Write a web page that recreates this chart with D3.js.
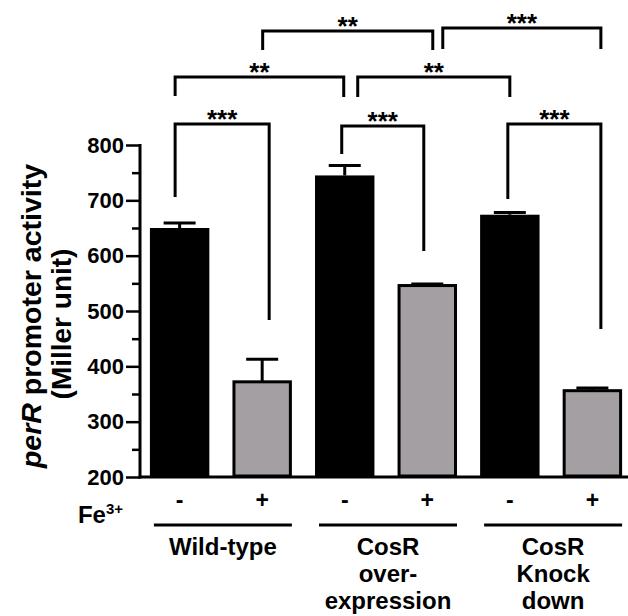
<!DOCTYPE html>
<html><head><meta charset="utf-8">
<script src="https://cdn.jsdelivr.net/npm/d3@7"></script>
<style>body{margin:0;background:#fff}svg{display:block}text{font-family:"Liberation Sans",Arial,sans-serif;font-weight:bold}</style>
</head><body>
<svg id="c" width="628" height="616"></svg>
<script>
// ---- data ----
const conditions = ["-", "+", "-", "+", "-", "+"];
const groups = ["Wild-type", "CosR over-expression", "CosR Knock down"];
const groupLines = [["Wild-type"], ["CosR", "over-", "expression"], ["CosR", "Knock", "down"]];
const values = [650, 372, 745, 546, 674, 356];
const errors = [9, 41, 18, 3, 4, 5];
const yTicks = [200, 300, 400, 500, 600, 700, 800];
const yMinorTicks = [250, 350, 450, 550, 650, 750];
const comparisons = [[0, 1, "***"], [2, 3, "***"], [4, 5, "***"], [0, 2, "**"], [2, 4, "**"], [1, 3, "**"], [3, 5, "***"]];

// ---- layout ----
const svg = d3.select("#c");
const x = d3.scaleBand().domain(d3.range(values.length)).range([140, 632]).paddingInner(0.28).paddingOuter(0.12);
const y = d3.scaleLinear().domain([200, 800]).range([477, 145]);
const fills = ["#000", "#a39fa3"];

// bars
svg.selectAll("rect.bar").data(values).join("rect")
  .attr("class", "bar")
  .attr("x", (d, i) => x(i) + (i % 2 ? 1.5 : 0))
  .attr("width", (d, i) => x.bandwidth() - (i % 2 ? 3 : 0))
  .attr("y", d => y(d))
  .attr("height", d => y(200) - y(d) - 1)
  .attr("fill", (d, i) => fills[i % 2])
  .attr("stroke", "#000")
  .attr("stroke-width", (d, i) => i % 2 ? 3 : 0);

// error bars (upper only)
const eb = svg.append("g").attr("stroke", "#000").attr("stroke-width", 3);
values.forEach((v, i) => {
  const cx = x(i) + x.bandwidth() / 2;
  eb.append("line").attr("x1", cx).attr("x2", cx).attr("y1", y(v)).attr("y2", y(v + errors[i]));
  eb.append("line").attr("x1", cx - 16).attr("x2", cx + 16).attr("y1", y(v + errors[i])).attr("y2", y(v + errors[i]));
});

// axes
const yAxis = svg.append("g").attr("transform", "translate(140,0)")
  .call(d3.axisLeft(y).tickValues(yTicks).tickSize(14).tickPadding(2).tickFormat(d3.format("d")));
yAxis.select(".domain").remove();
yAxis.selectAll(".tick line").attr("stroke-width", 2.5);
yAxis.selectAll(".tick text").attr("font-size", 22).attr("font-family", "Liberation Sans").attr("font-weight", "bold").attr("fill", "#000");
const yMinor = svg.append("g").attr("transform", "translate(140,0)")
  .call(d3.axisLeft(y).tickValues(yMinorTicks).tickSize(8).tickFormat(""));
yMinor.select(".domain").remove();
yMinor.selectAll(".tick line").attr("stroke-width", 2.5);
svg.append("line").attr("x1", 140).attr("x2", 140).attr("y1", y(800) - 1).attr("y2", y(200) + 1.5).attr("stroke", "#000").attr("stroke-width", 3);
svg.append("line").attr("x1", 138.5).attr("x2", 628).attr("y1", y(200)).attr("y2", y(200)).attr("stroke", "#000").attr("stroke-width", 3);

// y title
const yt = svg.append("text").attr("transform", "translate(41,316) rotate(-90)").attr("text-anchor", "middle").attr("font-size", 28.5);
yt.append("tspan").attr("font-style", "italic").text("perR");
yt.append("tspan").text(" promoter activity");
svg.append("text").attr("transform", "translate(71,324) rotate(-90)").attr("text-anchor", "middle").attr("font-size", 28).text("(Miller unit)");

// condition labels
svg.selectAll("text.cond").data(conditions).join("text").attr("class", "cond")
  .attr("x", (d, i) => x(i) + x.bandwidth() / 2).attr("y", 508)
  .attr("text-anchor", "middle").attr("font-size", 23).text(d => d);
const fe = svg.append("text").attr("x", 123).attr("y", 523).attr("text-anchor", "end").attr("font-size", 24);
fe.append("tspan").text("Fe");
fe.append("tspan").attr("font-size", 15).attr("dy", -9).text("3+");

// group underlines and labels
groups.forEach((g, gi) => {
  const x0 = x(gi * 2), x1 = x(gi * 2 + 1) + x.bandwidth();
  svg.append("line").attr("x1", x0 + 4).attr("x2", x1).attr("y1", 525).attr("y2", 525).attr("stroke", "#000").attr("stroke-width", 3);
  const t = svg.append("text").attr("text-anchor", "middle").attr("font-size", 24).attr("x", (x0 + x1) / 2);
  groupLines[gi].forEach((ln, k) => t.append("tspan").attr("x", (x0 + x1) / 2 + 2).attr("y", 555 + k * 27).text(ln));
});

// significance brackets: [left offset, right offset, top, left leg bottom, right leg bottom]
const bracketGeom = [
  [-4.5, 7, 124, 197, 320],
  [-3, -3.5, 126, 154, 251],
  [-2, 8.5, 124, 199, 329],
  [-4.5, -1, 77, 96, 97],
  [13, 0, 77, 97, 97],
  [0.5, 5.5, 31, 50, 50],
  [15.5, 8.5, 28, 49, 49]
];
const bg = svg.append("g");
comparisons.forEach(([a, b, lab], k) => {
  const [oa, ob, top, bl, br] = bracketGeom[k];
  const xa = x(a) + x.bandwidth() / 2 + oa, xb = x(b) + x.bandwidth() / 2 + ob;
  bg.append("path").attr("d", `M${xa},${bl}V${top}H${xb}V${br}`)
    .attr("fill", "none").attr("stroke", "#000").attr("stroke-width", 3).attr("stroke-linejoin", "miter");
  bg.append("text").attr("x", (xa + xb) / 2).attr("y", top + 4).attr("text-anchor", "middle")
    .attr("font-size", 26).attr("font-weight", "normal").text(lab);
});
</script>
</body></html>
